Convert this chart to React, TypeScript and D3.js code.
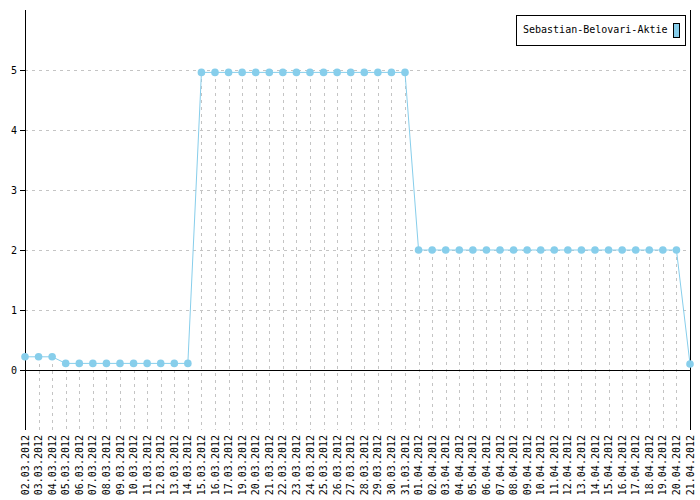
import React from "react";
import * as d3 from "d3";

const seriesName = "Sebastian-Belovari-Aktie";

const dates: string[] = [
  "02.03.2012", "03.03.2012", "04.03.2012", "05.03.2012", "06.03.2012", "07.03.2012",
  "08.03.2012", "09.03.2012", "10.03.2012", "11.03.2012", "12.03.2012", "13.03.2012",
  "14.03.2012", "15.03.2012", "16.03.2012", "17.03.2012", "19.03.2012", "20.03.2012",
  "21.03.2012", "22.03.2012", "23.03.2012", "24.03.2012", "25.03.2012", "26.03.2012",
  "27.03.2012", "28.03.2012", "29.03.2012", "30.03.2012", "31.03.2012", "01.04.2012",
  "02.04.2012", "03.04.2012", "04.04.2012", "05.04.2012", "06.04.2012", "07.04.2012",
  "08.04.2012", "09.04.2012", "10.04.2012", "11.04.2012", "12.04.2012", "13.04.2012",
  "14.04.2012", "15.04.2012", "16.04.2012", "17.04.2012", "18.04.2012", "19.04.2012",
  "20.04.2012", "21.04.2012",
];

const values: number[] = [
  0.22, 0.22, 0.22, 0.11, 0.11, 0.11, 0.11, 0.11, 0.11, 0.11, 0.11, 0.11, 0.11,
  4.96, 4.96, 4.96, 4.96, 4.96, 4.96, 4.96, 4.96, 4.96, 4.96, 4.96, 4.96, 4.96,
  4.96, 4.96, 4.96,
  2, 2, 2, 2, 2, 2, 2, 2, 2, 2, 2, 2, 2, 2, 2, 2, 2, 2, 2, 2,
  0.1,
];

const yTicks: number[] = [0, 1, 2, 3, 4, 5];
const gridLevels: number[] = [1, 2, 3, 4, 5];

const W = 700;
const H = 500;
const left = 25;
const right = 690;
const top = 10;
const bottom = 430;
const color = "#87CEEB";
const gridColor = "#c4c4c4";
const font = "'DejaVu Sans Mono', monospace";

export default function App() {
  const x = d3.scalePoint<string>().domain(dates).range([left, right]).padding(0);
  const y = d3.scaleLinear().domain([-1, 6]).range([bottom, top]);
  const data = dates.map((d, i) => ({ d, v: values[i] }));
  const line = d3
    .line<{ d: string; v: number }>()
    .x((p) => x(p.d) as number)
    .y((p) => y(p.v));

  return (
    <div style={{ position: "absolute", left: 0, top: 0 }}>
      <svg width={W} height={H} style={{ display: "block", background: "#fff" }}>
        {gridLevels.map((g) => (
          <line
            key={"hg" + g}
            x1={left}
            x2={right}
            y1={Math.round(y(g)) + 0.5}
            y2={Math.round(y(g)) + 0.5}
            stroke={gridColor}
            strokeDasharray="3,4"
            shapeRendering="crispEdges"
          />
        ))}
        {data.map((p) => {
          const px = Math.round(x(p.d) as number) + 0.5;
          return (
            <line
              key={"vg" + p.d}
              x1={px}
              x2={px}
              y1={y(p.v)}
              y2={bottom}
              stroke={gridColor}
              strokeDasharray="3,4"
              shapeRendering="crispEdges"
            />
          );
        })}
        <line
          x1={left}
          x2={right}
          y1={Math.round(y(0)) + 0.5}
          y2={Math.round(y(0)) + 0.5}
          stroke="#000"
          shapeRendering="crispEdges"
        />
        <line x1={left + 0.5} x2={left + 0.5} y1={top} y2={bottom} stroke="#000" shapeRendering="crispEdges" />
        <line x1={right + 0.5} x2={right + 0.5} y1={top} y2={bottom} stroke="#000" shapeRendering="crispEdges" />
        {yTicks.map((t) => (
          <g key={"yt" + t}>
            <line
              x1={left - 5}
              x2={left}
              y1={Math.round(y(t)) + 0.5}
              y2={Math.round(y(t)) + 0.5}
              stroke="#000"
              shapeRendering="crispEdges"
            />
            <text
              x={left - 8}
              y={y(t)}
              dy="0.35em"
              textAnchor="end"
              fontFamily={font}
              fontSize={10}
              fill="#000"
            >
              {t}
            </text>
          </g>
        ))}
        <path d={line(data) || ""} fill="none" stroke={color} strokeWidth={1} />
        {data.map((p) => (
          <circle key={"pt" + p.d} cx={x(p.d) as number} cy={y(p.v)} r={3.8} fill={color} />
        ))}
        {dates.map((d) => {
          const px = x(d) as number;
          return (
            <text
              key={"xl" + d}
              transform={`translate(${px + 3.5},${bottom + 5}) rotate(-90)`}
              textAnchor="end"
              fontFamily={font}
              fontSize={10}
              fill="#000"
            >
              {d}
            </text>
          );
        })}
        <rect x={516.5} y={15.5} width={169} height={30} fill="#fff" stroke="#000" shapeRendering="crispEdges" />
        <text x={523} y={33} fontFamily={font} fontSize={10} fill="#000">
          {seriesName}
        </text>
        <rect x={673.5} y={23.5} width={6} height={14} fill={color} stroke="#000" shapeRendering="crispEdges" />
      </svg>
    </div>
  );
}
